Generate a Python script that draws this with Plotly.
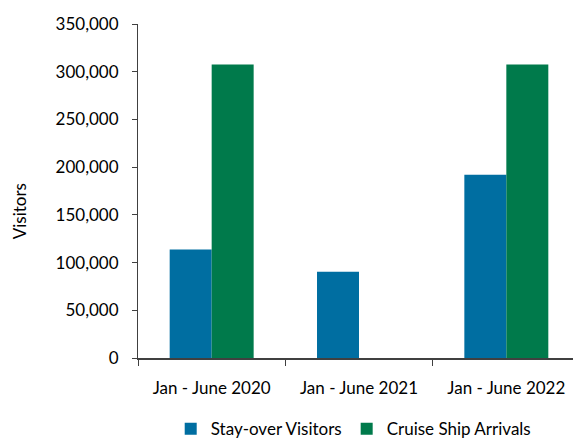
import plotly.graph_objects as go

categories = ["Jan - June 2020", "Jan - June 2021", "Jan - June 2022"]
stay_over = [113700, 90300, 192000]
cruise = [307500, None, 307500]
tick_vals = [0, 50000, 100000, 150000, 200000, 250000, 300000, 350000]
tick_text = ["0", "50,000", "100,000", "150,000", "200,000", "250,000", "300,000", "350,000"]

FONT = "Lato"
fig = go.Figure()
fig.add_trace(go.Bar(name="Stay-over Visitors", x=categories, y=stay_over,
                     marker=dict(color="#006EA1", line=dict(width=0))))
fig.add_trace(go.Bar(name="Cruise Ship Arrivals", x=categories, y=cruise,
                     marker=dict(color="#007A4B", line=dict(width=0))))

fig.update_layout(
    width=573, height=430,
    margin=dict(l=130, r=1, t=16, b=80, autoexpand=False),
    paper_bgcolor="white", plot_bgcolor="white",
    barmode="group", bargap=0.43, bargroupgap=0,
    font=dict(family=FONT, size=17, color="#000000"),
    showlegend=True,
    legend=dict(orientation="h", x=0.074, xanchor="left", y=-0.213, yanchor="middle",
                font=dict(size=17), itemwidth=30, traceorder="normal",
                bgcolor="rgba(0,0,0,0)"),
    annotations=[dict(text="Visitors", xref="paper", yref="paper", x=-0.2686, y=0.44,
                      textangle=-90, showarrow=False, font=dict(size=17),
                      xanchor="center", yanchor="middle")],
)
fig.update_yaxes(range=[0, 350000], tickvals=tick_vals, ticktext=tick_text,
                 showgrid=False, showline=True, linecolor="#404040", linewidth=1,
                 ticks="outside", ticklen=5, tickcolor="#404040",
                 tickfont=dict(size=17), ticklabelstandoff=10,
                 zeroline=False, automargin=False)
fig.update_xaxes(showgrid=False, showline=True, linecolor="#404040", linewidth=1.5,
                 ticks="outside", tickson="boundaries", ticklen=6, tickcolor="#404040",
                 tickfont=dict(size=17), ticklabelstandoff=14, automargin=False)

fig.write_html("out.html")
